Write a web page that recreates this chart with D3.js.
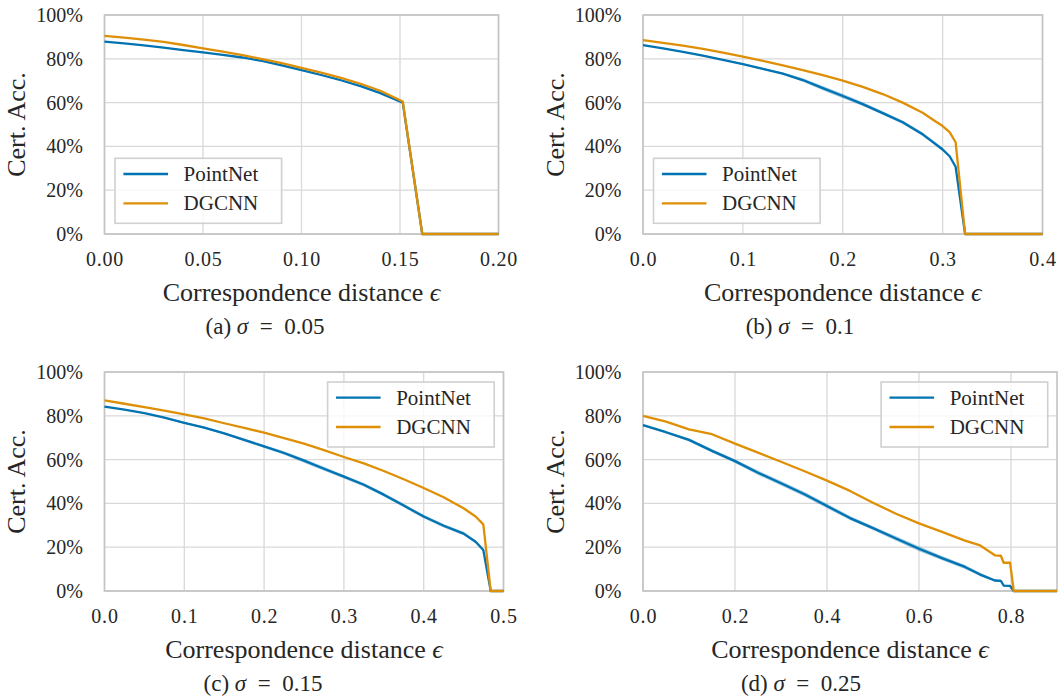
<!DOCTYPE html>
<html>
<head>
<meta charset="utf-8">
<script src="https://cdn.jsdelivr.net/npm/d3@7"></script>
<style>
  body { margin: 0; background: #fff; }
  svg text { font-family: "Liberation Serif", "Times New Roman", serif; fill: #262626; }
</style>
</head>
<body>
<svg id="fig" width="1058" height="698"></svg>
<script>
// certified accuracy (%) vs correspondence distance
const yTicks = [0, 20, 40, 60, 80, 100];

// (a) sigma = 0.05
const epsA = [0, 0.01, 0.02, 0.03, 0.04, 0.05, 0.06, 0.07, 0.08, 0.09, 0.10, 0.11, 0.12, 0.13, 0.14, 0.1514, 0.1613, 0.20];
const pointNetA = [87.8, 87.0, 86.1, 85.1, 84.0, 82.9, 81.8, 80.6, 79.0, 77.0, 74.8, 72.6, 70.2, 67.5, 64.3, 60.0, 0, 0];
const dgcnnA = [90.5, 89.7, 88.8, 87.7, 86.3, 84.8, 83.3, 81.7, 79.9, 78.0, 75.9, 73.7, 71.3, 68.6, 65.4, 60.5, 0, 0];
const spreadA = [0.2, 0.2, 0.2, 0.2, 0.2, 0.2, 0.2, 0.3, 0.3, 0.3, 0.3, 0.3, 0.3, 0.3, 0.3, 0.3, 0, 0];
const xTicksA = [0, 0.05, 0.10, 0.15, 0.20];

// (b) sigma = 0.1
const epsB = [0, 0.02, 0.04, 0.06, 0.08, 0.10, 0.12, 0.14, 0.16, 0.18, 0.20, 0.22, 0.24, 0.26, 0.28, 0.29, 0.30, 0.307, 0.313, 0.3225, 0.4];
const pointNetB = [86.2, 84.8, 83.2, 81.4, 79.5, 77.6, 75.4, 73.2, 70.3, 66.6, 63.0, 59.3, 55.2, 51.0, 45.5, 42.1, 38.6, 35.5, 30.7, 0, 0];
const dgcnnB = [88.5, 87.3, 86.0, 84.5, 82.8, 81.0, 79.0, 77.0, 74.8, 72.5, 70.0, 67.2, 63.9, 60.0, 55.4, 52.3, 49.3, 46.5, 41.9, 0, 0];
const spreadB = [0.2, 0.2, 0.3, 0.3, 0.3, 0.4, 0.4, 0.5, 0.8, 1.0, 1.0, 0.9, 0.8, 0.8, 0.8, 0.8, 0.8, 0.6, 0.5, 0, 0];
const xTicksB = [0, 0.1, 0.2, 0.3, 0.4];

// (c) sigma = 0.15
const epsC = [0, 0.025, 0.05, 0.075, 0.10, 0.125, 0.15, 0.175, 0.20, 0.225, 0.25, 0.275, 0.30, 0.325, 0.35, 0.375, 0.40, 0.425, 0.45, 0.465, 0.4747, 0.484, 0.5];
const pointNetC = [84.2, 82.8, 81.2, 79.2, 76.8, 74.6, 72.0, 69.0, 66.0, 63.0, 59.5, 55.8, 52.2, 48.5, 44.0, 39.0, 34.0, 29.8, 26.2, 22.5, 18.7, 0, 0];
const dgcnnC = [87.0, 85.5, 84.0, 82.4, 80.7, 78.8, 76.6, 74.5, 72.3, 69.8, 67.3, 64.3, 61.2, 58.3, 54.8, 51.0, 47.0, 42.8, 37.8, 34.0, 30.4, 0, 0];
const spreadC = [0.2, 0.3, 0.3, 0.4, 0.4, 0.5, 0.5, 0.6, 0.7, 0.8, 0.9, 0.9, 0.8, 0.8, 0.8, 0.8, 0.8, 0.8, 0.8, 0.7, 0.6, 0, 0];
const xTicksC = [0, 0.1, 0.2, 0.3, 0.4, 0.5];

// (d) sigma = 0.25
const epsD = [0, 0.05, 0.1, 0.15, 0.2, 0.25, 0.3, 0.35, 0.4, 0.45, 0.5, 0.55, 0.6, 0.65, 0.7, 0.733, 0.765, 0.778, 0.784, 0.798, 0.806, 0.9];
const pointNetD = [75.7, 72.5, 69.0, 64.0, 59.3, 54.0, 49.2, 44.3, 38.8, 33.3, 28.7, 24.0, 19.3, 15.0, 11.0, 7.5, 4.8, 4.6, 2.5, 2.3, 0, 0];
const dgcnnD = [80.0, 77.3, 73.8, 71.6, 67.3, 63.2, 59.0, 54.8, 50.4, 45.7, 40.3, 35.3, 30.9, 27.0, 23.0, 20.8, 16.3, 16.1, 12.9, 12.9, 0, 0];
const spreadD = [0.5, 0.6, 0.7, 0.8, 0.9, 1.0, 1.0, 1.0, 1.0, 0.9, 0.9, 1.0, 1.1, 1.0, 0.9, 0.8, 0.6, 0.5, 0.4, 0.3, 0, 0];
const xTicksD = [0, 0.2, 0.4, 0.6, 0.8];

const blue = '#0173b2';
const orange = '#de8f05';

const panels = [
  { eps: epsA, pn: pointNetA, dg: dgcnnA, sp: spreadA, xMax: 0.2, ticks: xTicksA, fmt: '.2f',
    left: 104.5, right: 498.5, top: 15, bottom: 234, legend: 'bl', tag: 'a', sigma: '0.05', capX: 265 },
  { eps: epsB, pn: pointNetB, dg: dgcnnB, sp: spreadB, xMax: 0.4, ticks: xTicksB, fmt: '.1f',
    left: 643, right: 1042.5, top: 15, bottom: 234, legend: 'bl', tag: 'b', sigma: '0.1', capX: 800 },
  { eps: epsC, pn: pointNetC, dg: dgcnnC, sp: spreadC, xMax: 0.5, ticks: xTicksC, fmt: '.1f',
    left: 104.5, right: 503.5, top: 372, bottom: 591, legend: 'tr', tag: 'c', sigma: '0.15', capX: 263 },
  { eps: epsD, pn: pointNetD, dg: dgcnnD, sp: spreadD, xMax: 0.9, ticks: xTicksD, fmt: '.1f',
    left: 643, right: 1057, top: 372, bottom: 591, legend: 'tr', tag: 'd', sigma: '0.25', capX: 801 },
];

const svg = d3.select('#fig');

const drawPanel = (p) => {
  const x = d3.scaleLinear().domain([0, p.xMax]).range([p.left, p.right]);
  const y = d3.scaleLinear().domain([0, 100]).range([p.bottom, p.top]);
  const g = svg.append('g');

  // grid
  g.selectAll('.gx').data(p.ticks).enter().append('line')
    .attr('x1', (d) => x(d)).attr('x2', (d) => x(d))
    .attr('y1', p.top).attr('y2', p.bottom)
    .style('stroke', '#d9d9d9').style('stroke-width', 1.3);
  g.selectAll('.gy').data(yTicks).enter().append('line')
    .attr('x1', p.left).attr('x2', p.right)
    .attr('y1', (d) => y(d)).attr('y2', (d) => y(d))
    .style('stroke', '#d9d9d9').style('stroke-width', 1.3);

  // frame
  g.append('rect')
    .attr('x', p.left).attr('y', p.top)
    .attr('width', p.right - p.left).attr('height', p.bottom - p.top)
    .style('fill', 'none').style('stroke', '#c4c4c4').style('stroke-width', 1.6);

  // axes (labels only)
  const ax = g.append('g')
    .attr('transform', `translate(0,${p.bottom})`)
    .call(d3.axisBottom(x).tickValues(p.ticks).tickFormat(d3.format(p.fmt)).tickSize(0).tickPadding(18));
  ax.select('.domain').remove();
  ax.selectAll('text').attr('font-size', '20px').style('letter-spacing', '0.8px');

  const ay = g.append('g')
    .attr('transform', `translate(${p.left},0)`)
    .call(d3.axisLeft(y).tickValues(yTicks).tickFormat((d) => `${d}%`).tickSize(0).tickPadding(21.5));
  ay.select('.domain').remove();
  ay.selectAll('text').attr('font-size', '20px');
  [ax, ay].forEach((a) => a.attr('font-family', null).attr('font-size', null));

  // PointNet band
  const rows = p.eps.map((e, i) => ({ e, pn: p.pn[i], dg: p.dg[i], sp: p.sp[i] }));
  const area = d3.area()
    .x((d) => x(d.e))
    .y0((d) => y(Math.max(0, d.pn - d.sp)))
    .y1((d) => y(d.pn + d.sp));
  g.append('path').datum(rows).attr('d', area)
    .style('fill', blue).style('fill-opacity', 0.35).style('stroke', 'none');

  const linePn = d3.line().x((d) => x(d.e)).y((d) => y(d.pn));
  const lineDg = d3.line().x((d) => x(d.e)).y((d) => y(d.dg));
  g.append('path').datum(rows).attr('d', linePn)
    .style('fill', 'none').style('stroke', blue).style('stroke-width', 2.3).style('stroke-linejoin', 'round');
  g.append('path').datum(rows).attr('d', lineDg)
    .style('fill', 'none').style('stroke', orange).style('stroke-width', 2.3).style('stroke-linejoin', 'round');

  // legend
  const lw = 166.6;
  const lh = 65;
  const lx = p.legend === 'bl' ? p.left + 10.5 : p.right - 9.3 - lw;
  const ly = p.legend === 'bl' ? p.bottom - 10.7 - lh : p.top + 10;
  const leg = g.append('g').attr('transform', `translate(${lx},${ly})`);
  leg.append('rect').attr('width', lw).attr('height', lh)
    .style('fill', '#fff').style('fill-opacity', 0.8)
    .style('stroke', '#d0d0d0').style('stroke-width', 1.6);
  [['PointNet', blue, 15.7], ['DGCNN', orange, 45]].forEach(([name, c, yy]) => {
    leg.append('line').attr('x1', 8.4).attr('x2', 53).attr('y1', yy).attr('y2', yy)
      .style('stroke', c).style('stroke-width', 2.3);
    leg.append('text').attr('x', 68.6).attr('y', yy + 7).attr('font-size', '21px').text(name);
  });

  // axis titles
  g.append('text')
    .attr('x', (p.left + p.right) / 2).attr('y', p.bottom + 67)
    .attr('text-anchor', 'middle').attr('font-size', '26px')
    .text('Correspondence distance ')
    .append('tspan').style('font-style', 'italic').text('\u03f5');
  g.append('text')
    .attr('transform', `translate(${p.left - 79.5},${(p.top + p.bottom) / 2}) rotate(-90)`)
    .attr('text-anchor', 'middle').attr('font-size', '26px')
    .text('Cert. Acc.');

  // caption
  const cap = g.append('text')
    .attr('x', p.capX).attr('y', p.bottom + 100)
    .attr('text-anchor', 'middle').attr('font-size', '23px');
  cap.append('tspan').text(`(${p.tag}) `);
  cap.append('tspan').style('font-style', 'italic').text('\u03c3');
  cap.append('tspan').text(`\u2002=\u2002${p.sigma}`);
};

panels.forEach(drawPanel);
</script>
</body>
</html>
